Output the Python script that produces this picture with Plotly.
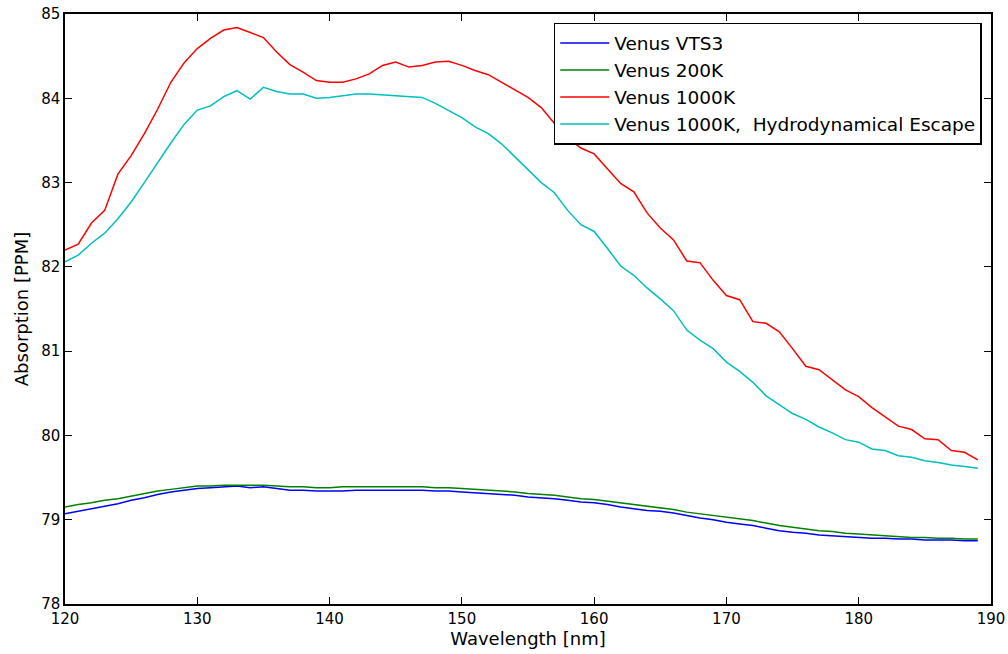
import plotly.graph_objects as go

wavelength = list(range(120, 190))

venus_vts3 = [79.07, 79.10, 79.13, 79.16, 79.19, 79.23, 79.26, 79.30, 79.33, 79.35,
              79.37, 79.38, 79.39, 79.40, 79.38, 79.39, 79.37, 79.35, 79.35, 79.34,
              79.34, 79.34, 79.35, 79.35, 79.35, 79.35, 79.35, 79.35, 79.34, 79.34,
              79.33, 79.32, 79.31, 79.30, 79.29, 79.27, 79.26, 79.25, 79.23, 79.21,
              79.20, 79.18, 79.15, 79.13, 79.11, 79.10, 79.08, 79.05, 79.02, 79.00,
              78.97, 78.95, 78.93, 78.90, 78.87, 78.85, 78.84, 78.82, 78.81, 78.80,
              78.79, 78.78, 78.78, 78.77, 78.77, 78.76, 78.76, 78.76, 78.75, 78.75]

venus_200k = [79.15, 79.18, 79.20, 79.23, 79.25, 79.28, 79.31, 79.34, 79.36, 79.38,
              79.40, 79.40, 79.41, 79.41, 79.41, 79.41, 79.40, 79.39, 79.39, 79.38,
              79.38, 79.39, 79.39, 79.39, 79.39, 79.39, 79.39, 79.39, 79.38, 79.38,
              79.37, 79.36, 79.35, 79.34, 79.33, 79.31, 79.30, 79.29, 79.27, 79.25,
              79.24, 79.22, 79.20, 79.18, 79.16, 79.14, 79.12, 79.09, 79.07, 79.05,
              79.03, 79.01, 78.99, 78.96, 78.93, 78.91, 78.89, 78.87, 78.86, 78.84,
              78.83, 78.82, 78.81, 78.80, 78.79, 78.79, 78.78, 78.78, 78.77, 78.77]

venus_1000k = [82.20, 82.27, 82.52, 82.67, 83.10, 83.32, 83.58, 83.87, 84.19, 84.42,
               84.59, 84.71, 84.81, 84.84, 84.78, 84.72, 84.55, 84.40, 84.31, 84.21,
               84.19, 84.19, 84.23, 84.29, 84.39, 84.43, 84.37, 84.39, 84.43, 84.44,
               84.39, 84.33, 84.28, 84.19, 84.10, 84.01, 83.89, 83.70, 83.53, 83.41,
               83.34, 83.17, 82.99, 82.89, 82.64, 82.46, 82.32, 82.07, 82.05, 81.84,
               81.66, 81.61, 81.35, 81.33, 81.23, 81.03, 80.82, 80.78, 80.66, 80.54,
               80.46, 80.33, 80.22, 80.11, 80.07, 79.96, 79.95, 79.82, 79.80, 79.71]

venus_1000k_escape = [82.06, 82.14, 82.28, 82.40, 82.57, 82.77, 83.00, 83.24, 83.47, 83.69,
                      83.86, 83.91, 84.02, 84.09, 83.99, 84.13, 84.08, 84.05, 84.05, 84.00,
                      84.01, 84.03, 84.05, 84.05, 84.04, 84.03, 84.02, 84.01, 83.94, 83.86,
                      83.77, 83.66, 83.58, 83.46, 83.31, 83.15, 83.00, 82.88, 82.67, 82.50,
                      82.42, 82.22, 82.01, 81.90, 81.75, 81.62, 81.48, 81.25, 81.13, 81.03,
                      80.87, 80.76, 80.63, 80.47, 80.37, 80.26, 80.19, 80.10, 80.03, 79.95,
                      79.92, 79.84, 79.82, 79.76, 79.74, 79.70, 79.68, 79.65, 79.63, 79.61]

series = [
    ("Venus VTS3", venus_vts3, "#0000ff"),
    ("Venus 200K", venus_200k, "#008000"),
    ("Venus 1000K", venus_1000k, "#ff0000"),
    ("Venus 1000K,  Hydrodynamical Escape", venus_1000k_escape, "#00bfbf"),
]

x_ticks = [120, 130, 140, 150, 160, 170, 180, 190]
y_ticks = [78, 79, 80, 81, 82, 83, 84, 85]

fig = go.Figure()
for name, vals, color in series:
    fig.add_trace(go.Scatter(x=wavelength, y=vals, mode="lines", name=name,
                             line=dict(color=color, width=1.5)))

font = dict(family="DejaVu Sans", color="black")
axis_common = dict(showline=True, linecolor="black", linewidth=1.5, mirror="ticks",
                   ticks="inside", ticklen=7, tickwidth=1, tickcolor="black",
                   showgrid=False, zeroline=False, automargin=False,
                   tickfont=dict(size=15, **font))

fig.update_layout(
    width=1008, height=654,
    margin=dict(l=65, r=17, t=14, b=50, autoexpand=False),
    paper_bgcolor="white", plot_bgcolor="white",
    font=font,
    xaxis=dict(range=[120, 190], tickvals=x_ticks, ticktext=[str(v) for v in x_ticks],
               title=dict(text="Wavelength [nm]", font=dict(size=18, **font), standoff=4),
               **axis_common),
    yaxis=dict(range=[78, 85], tickvals=y_ticks, ticktext=[str(v) for v in y_ticks],
               title=dict(text="Absorption [PPM]", font=dict(size=18, **font), standoff=8),
               **axis_common),
    legend=dict(x=0.990, y=0.985, xanchor="right", yanchor="top",
                bgcolor="white", bordercolor="black", borderwidth=1.5,
                font=dict(size=18.5, **font), tracegroupgap=0, itemwidth=49),
    showlegend=True,
)

fig.write_html("out.html", config={"displayModeBar": False},
               post_script="document.body.style.margin='0';document.body.style.padding='0';")
